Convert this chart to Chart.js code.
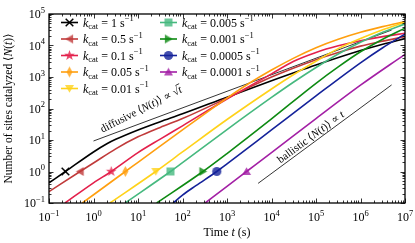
<!DOCTYPE html>
<html><head><meta charset="utf-8">
<script src="https://cdn.jsdelivr.net/npm/chart.js@4"></script>
<style>html,body{margin:0;padding:0;background:#fff;}#wrap{width:415px;height:243px;}</style>
</head><body><div id="wrap"><canvas id="c" width="415" height="243"></canvas></div>
<script>
// ---------------- data ----------------
const kcatLabels = ['1', '0.5', '0.1', '0.05', '0.01', '0.005', '0.001', '0.0005', '0.0001'];

const tBlack = [0.1, 0.234, 1, 2, 3.16, 10, 31.6, 100, 1e3, 1e4, 1e5, 1e6, 3.16e6, 1e7];
const nBlack = [0.437, 1, 4.17, 7.59, 10.5, 20.9, 38.0, 67.6, 229, 759, 2400, 6920, 11000, 16600];
const tBrown = [0.1, 0.5, 1, 3.16, 10, 31.6, 100, 1e3, 1e4, 1e5, 3.16e5, 1e6, 3.16e6, 1e7];
const nBrown = [0.229, 1, 1.86, 5.25, 12.6, 25.1, 47.9, 214, 1000, 3550, 6030, 9550, 13800, 19100];
const tRed = [0.229, 1, 2.5, 10, 31.6, 100, 1e3, 1e4, 3.16e4, 1e5, 3.16e5, 1e6, 3.16e6, 1e7];
const nRed = [0.1, 0.437, 1, 3.98, 10.7, 28.2, 200, 1260, 3160, 6030, 9770, 14100, 19100, 24500];
const tOrange = [0.56, 5.2, 10, 100, 1e3, 3160, 1e4, 3.16e4, 1e5, 3.16e5, 1e6, 3.16e6, 1e7];
const nOrange = [0.1, 1, 1.95, 20.9, 214, 631, 1660, 3980, 8510, 15800, 26300, 39800, 57500];
const tYellow = [2.34, 25.1, 100, 1e3, 1e4, 3.16e4, 1e5, 3.16e5, 1e6, 3.16e6, 1e7];
const nYellow = [0.1, 1, 4.17, 44.7, 417, 1200, 3160, 7940, 16600, 31600, 55000];
const tTeal = [5.13, 53.7, 100, 1e3, 1e4, 3.16e4, 1e5, 3.16e5, 1e6, 3.16e6, 1e7];
const nTeal = [0.1, 1, 1.91, 21.4, 224, 692, 2000, 5370, 12600, 26300, 47900];
const tGreen = [26.3, 288, 1e3, 1e4, 1e5, 3.16e5, 1e6, 3.16e6, 1e7];
const nGreen = [0.1, 1, 3.72, 46.8, 631, 2090, 6310, 15800, 35500];
const tBlue = [61.7, 100, 200, 589, 1e3, 1e4, 1e5, 1e6, 3.16e6, 1e7];
const nBlue = [0.1, 0.178, 0.355, 1, 1.74, 20.9, 251, 2820, 8510, 22900];
const tPurple = [324, 1e3, 2750, 1e4, 1e5, 1e6, 1e7];
const nPurple = [0.1, 0.339, 1, 3.98, 47.9, 550, 5250];

const markerT = [0.234, 0.5, 2.5, 5.2, 25.1, 53.7, 288, 589, 2750];
const markerN = [1, 1, 1, 1, 1, 1, 1, 1, 1];

const diffusiveT = [1, 5e6];
const diffusiveN = [9.3, 30900];
const ballisticT = [5000, 5e6];
const ballisticN = [0.42, 560];

const xTickExps = [-1, 0, 1, 2, 3, 4, 5, 6, 7];
const yTickExps = [-1, 0, 1, 2, 3, 4, 5];

// ---------------- styles ----------------
const colors = ['#000000', '#c03a3a', '#e3204b', '#ff9f0f', '#ffd21a', '#46b97f', '#0d8a12', '#14229a', '#a31fa5'];
const markerKinds = ['x', 'tleft', 'star', 'thind', 'tdown', 'square', 'tright', 'circle', 'tup'];
const FONT = '"Liberation Serif","DejaVu Serif",serif';

function makeMarker(kind, color) {
  const S = 13, c = document.createElement('canvas');
  c.width = S; c.height = S;
  const g = c.getContext('2d');
  g.translate(S / 2, S / 2);
  g.fillStyle = color; g.strokeStyle = color;
  g.globalAlpha = 0.8;
  g.beginPath();
  const r = 4.6;
  if (kind === 'x') {
    g.globalAlpha = 1; g.lineWidth = 1.5;
    g.moveTo(-3.8, -3.8); g.lineTo(3.8, 3.8); g.moveTo(-3.8, 3.8); g.lineTo(3.8, -3.8);
    g.stroke(); return c;
  }
  if (kind === 'circle') { g.arc(0, 0, r, 0, Math.PI * 2); }
  else if (kind === 'square') { g.rect(-4, -4, 8, 8); }
  else if (kind === 'thind') { g.moveTo(0, -5.5); g.lineTo(3, 0); g.lineTo(0, 5.5); g.lineTo(-3, 0); }
  else if (kind === 'star') {
    for (let i = 0; i < 10; i++) {
      const a = -Math.PI / 2 + i * Math.PI / 5, rr = i % 2 ? 2.3 : 5.6;
      const px = rr * Math.cos(a), py = rr * Math.sin(a);
      i ? g.lineTo(px, py) : g.moveTo(px, py);
    }
  } else {
    const rot = { tup: 0, tright: Math.PI / 2, tdown: Math.PI, tleft: -Math.PI / 2 }[kind];
    for (let i = 0; i < 3; i++) {
      const a = rot - Math.PI / 2 + i * 2 * Math.PI / 3;
      const px = 5.2 * Math.cos(a), py = 5.2 * Math.sin(a) + (kind === 'tup' ? 1 : kind === 'tdown' ? -1 : 0);
      const qx = px + (kind === 'tleft' ? 1 : kind === 'tright' ? -1 : 0);
      i ? g.lineTo(qx, py) : g.moveTo(qx, py);
    }
  }
  g.closePath(); g.fill();
  return c;
}
const markerImgs = colors.map((c, i) => makeMarker(markerKinds[i], c));

const seriesT = [tBlack, tBrown, tRed, tOrange, tYellow, tTeal, tGreen, tBlue, tPurple];
const seriesN = [nBlack, nBrown, nRed, nOrange, nYellow, nTeal, nGreen, nBlue, nPurple];
const pts = (ts, ns) => ts.map((t, i) => ({ x: t, y: ns[i] }));

const datasets = [];
seriesT.forEach((ts, i) => {
  datasets.push({
    data: pts(ts, seriesN[i]), borderColor: colors[i], borderWidth: 1.6,
    pointRadius: 0, fill: false, cubicInterpolationMode: 'monotone', order: 100 - i
  });
});
datasets.push({ data: pts(diffusiveT, diffusiveN), borderColor: '#000', borderWidth: 0.8, pointRadius: 0, order: 120 });
datasets.push({ data: pts(ballisticT, ballisticN), borderColor: '#000', borderWidth: 0.8, pointRadius: 0, order: 120 });
markerT.forEach((t, i) => {
  datasets.push({
    data: [{ x: t, y: markerN[i] }], showLine: false, pointStyle: markerImgs[i],
    pointRadius: 5, order: -10 - i
  });
});

// ------------- helpers for rich text -------------
function runWidth(g, parts) {
  let w = 0;
  for (const p of parts) { g.font = (p.it ? 'italic ' : '') + p.s + 'px ' + FONT; w += g.measureText(p.t).width; }
  return w;
}
function drawRun(g, parts, x, y) {
  let cx = x;
  for (const p of parts) {
    g.font = (p.it ? 'italic ' : '') + p.s + 'px ' + FONT;
    g.fillText(p.t, cx, y + (p.dy || 0));
    cx += g.measureText(p.t).width;
  }
  return cx;
}
const sup = e => (e < 0 ? '\u2212' + (-e) : '' + e);
const tickParts = e => [{ t: '10', s: 12 }, { t: sup(e), s: 8.5, dy: -5.5 }];

const decorPlugin = {
  id: 'decor',
  afterDatasetsDraw(chart) {
    const g = chart.ctx, a = chart.chartArea, xs = chart.scales.x, ys = chart.scales.y;
    g.save();
    g.fillStyle = '#000'; g.strokeStyle = '#000';
    g.lineWidth = 1.3;
    g.strokeRect(a.left, a.top, a.right - a.left, a.bottom - a.top);
    g.lineWidth = 0.8;
    g.beginPath();
    xTickExps.forEach(e => {
      for (let m = 1; m < 10; m++) {
        if (m > 1 && e === xTickExps[xTickExps.length - 1]) break;
        const v = m * Math.pow(10, e), px = Math.round(xs.getPixelForValue(v)) + 0.5;
        if (px < a.left - 1 || px > a.right + 1) continue;
        const L = m === 1 ? 4.5 : 2.5;
        g.moveTo(px, a.bottom); g.lineTo(px, a.bottom - L);
        g.moveTo(px, a.top); g.lineTo(px, a.top + L);
      }
    });
    yTickExps.forEach(e => {
      for (let m = 1; m < 10; m++) {
        if (m > 1 && e === yTickExps[yTickExps.length - 1]) break;
        const v = m * Math.pow(10, e), py = Math.round(ys.getPixelForValue(v)) + 0.5;
        if (py < a.top - 1 || py > a.bottom + 1) continue;
        const L = m === 1 ? 4.5 : 2.5;
        g.moveTo(a.left, py); g.lineTo(a.left + L, py);
        g.moveTo(a.right, py); g.lineTo(a.right - L, py);
      }
    });
    g.stroke();
    g.textBaseline = 'alphabetic';
    xTickExps.forEach(e => {
      const parts = tickParts(e), w = runWidth(g, parts);
      const px = xs.getPixelForValue(Math.pow(10, e));
      drawRun(g, parts, px - w / 2, a.bottom + 18);
    });
    yTickExps.forEach(e => {
      const parts = tickParts(e), w = runWidth(g, parts);
      const py = ys.getPixelForValue(Math.pow(10, e));
      drawRun(g, parts, a.left - 4 - w, py + 4);
    });
    const xt = [{ t: 'Time ', s: 12 }, { t: 't', s: 12, it: true }, { t: ' (s)', s: 12 }];
    const xw = runWidth(g, xt);
    drawRun(g, xt, (a.left + a.right) / 2 - xw / 2, 236);
    const yt = [{ t: 'Number of sites catalyzed \u27E8', s: 11.5 }, { t: 'N', s: 11.5, it: true }, { t: '(', s: 11.5 }, { t: 't', s: 11.5, it: true }, { t: ')\u27E9', s: 11.5 }];
    const yw = runWidth(g, yt);
    g.save(); g.translate(12, (a.top + a.bottom) / 2); g.rotate(-Math.PI / 2);
    drawRun(g, yt, -yw / 2, 0); g.restore();

    // annotations
    const AS = 11;
    g.save();
    g.translate(xs.getPixelForValue(1.6), ys.getPixelForValue(17)); g.rotate(-27 * Math.PI / 180);
    let ex = drawRun(g, [{ t: 'diffusive \u27E8', s: AS }, { t: 'N', s: AS, it: true }, { t: '(', s: AS }, { t: 't', s: AS, it: true }, { t: ')\u27E9 \u221D \u221A', s: AS }], 0, 0);
    g.font = 'italic ' + AS + 'px ' + FONT;
    const tw = g.measureText('t').width;
    g.fillText('t', ex, 0);
    g.lineWidth = 0.7; g.beginPath(); g.moveTo(ex - 0.5, -9); g.lineTo(ex + tw + 0.5, -9); g.stroke();
    g.restore();
    const x1 = xs.getPixelForValue(ballisticT[0]), y1 = ys.getPixelForValue(ballisticN[0]);
    const x2 = xs.getPixelForValue(ballisticT[1]), y2 = ys.getPixelForValue(ballisticN[1]);
    g.save();
    g.translate(xs.getPixelForValue(16000), ys.getPixelForValue(1.8)); g.rotate(Math.atan2(y2 - y1, x2 - x1));
    drawRun(g, [{ t: 'ballistic \u27E8', s: AS }, { t: 'N', s: AS, it: true }, { t: '(', s: AS }, { t: 't', s: AS, it: true }, { t: ')\u27E9 \u221D ', s: AS }, { t: 't', s: AS, it: true }], 0, 0);
    g.restore();

    // legend
    kcatLabels.forEach((lab, i) => {
      const col = i < 5 ? 0 : 1, row = i < 5 ? i : i - 5;
      const x0 = col ? 160 : 61, y = 22.5 + row * 16.5;
      g.strokeStyle = colors[i]; g.lineWidth = 1.6;
      g.beginPath(); g.moveTo(x0, y); g.lineTo(x0 + 17, y); g.stroke();
      const im = markerImgs[i];
      g.drawImage(im, x0 + 8.5 - im.width / 2, y - im.height / 2);
      g.fillStyle = '#000';
      drawRun(g, [{ t: 'k', s: 12, it: true }, { t: 'cat', s: 8.5, dy: 2.5 }, { t: ' = ' + lab + ' s', s: 12 }, { t: '\u22121', s: 8.5, dy: -5.5 }], x0 + 22, y + 4);
    });
    g.restore();
  }
};

new Chart(document.getElementById('c').getContext('2d'), {
  type: 'line',
  data: { datasets },
  options: {
    responsive: false, animation: false, devicePixelRatio: 1,
    layout: { padding: { left: 49, right: 10, top: 14, bottom: 40 } },
    plugins: { legend: { display: false }, tooltip: { enabled: false } },
    scales: {
      x: { type: 'logarithmic', min: 0.1, max: 1e7, ticks: { display: false }, grid: { display: false, drawTicks: false }, border: { display: false }, title: { display: false } },
      y: { type: 'logarithmic', min: 0.1, max: 1e5, ticks: { display: false }, grid: { display: false, drawTicks: false }, border: { display: false }, title: { display: false } }
    }
  },
  plugins: [decorPlugin]
});
</script></body></html>
